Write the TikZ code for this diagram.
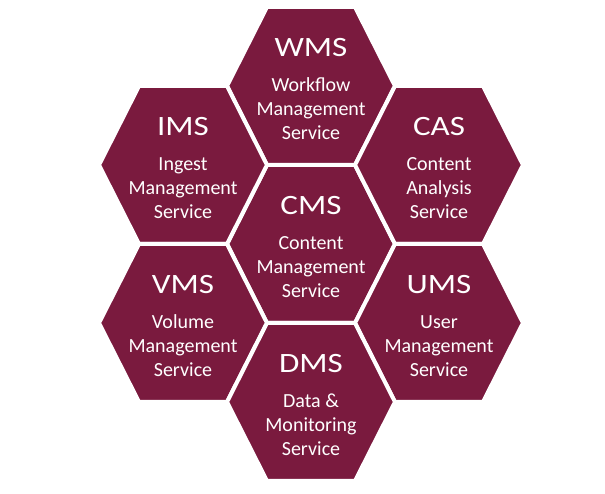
\documentclass[tikz,border=0pt]{standalone}
\usepackage{fontspec}
\setmainfont{Carlito}
\definecolor{hexred}{RGB}{122,26,62}
\newcommand{\acrotext}[1]{\scalebox{1.18}[1]{#1}}
\begin{document}
\begin{tikzpicture}[x=1pt,y=1pt,
  cell/.style={fill=hexred, draw=white, line width=4pt, line join=miter},
  acro/.style={text=white, font=\fontsize{28}{32}\selectfont, inner sep=0pt, anchor=base},
  desc/.style={text=white, font=\fontsize{20}{24}\selectfont, align=center, inner sep=0pt}]
\useasboundingbox (0,0) rectangle (605,494);
\coordinate (cms) at (311,250);
\coordinate (wms) at (311,408);
\coordinate (ims) at (183,329);
\coordinate (cas) at (439,329);
\coordinate (vms) at (183,171);
\coordinate (ums) at (439,171);
\coordinate (dms) at (311,92);
\foreach \c in {cms,wms,ims,cas,vms,ums,dms}
  \filldraw[cell, shift={(\c)}] (-84,0) -- (-44,79) -- (44,79) -- (84,0) -- (44,-79) -- (-44,-79) -- cycle;
\node[acro] (cmsA) at ([yshift=29pt]cms) {\acrotext{CMS}};
\node[desc] (cmsD) at ([yshift=-23pt]cms) {Content\\Management\\Service};
\node[acro] (wmsA) at ([yshift=29pt]wms) {\acrotext{WMS}};
\node[desc] (wmsD) at ([yshift=-23pt]wms) {Workflow\\Management\\Service};
\node[acro] (imsA) at ([yshift=29pt]ims) {\acrotext{IMS}};
\node[desc] (imsD) at ([yshift=-23pt]ims) {Ingest\\Management\\Service};
\node[acro] (casA) at ([yshift=29pt]cas) {\acrotext{CAS}};
\node[desc] (casD) at ([yshift=-23pt]cas) {Content\\Analysis\\Service};
\node[acro] (vmsA) at ([yshift=29pt]vms) {\acrotext{VMS}};
\node[desc] (vmsD) at ([yshift=-23pt]vms) {Volume\\Management\\Service};
\node[acro] (umsA) at ([yshift=29pt]ums) {\acrotext{UMS}};
\node[desc] (umsD) at ([yshift=-23pt]ums) {User\\Management\\Service};
\node[acro] (dmsA) at ([yshift=29pt]dms) {\acrotext{DMS}};
\node[desc] (dmsD) at ([yshift=-23pt]dms) {Data \&\\Monitoring\\Service};
\end{tikzpicture}
\end{document}
